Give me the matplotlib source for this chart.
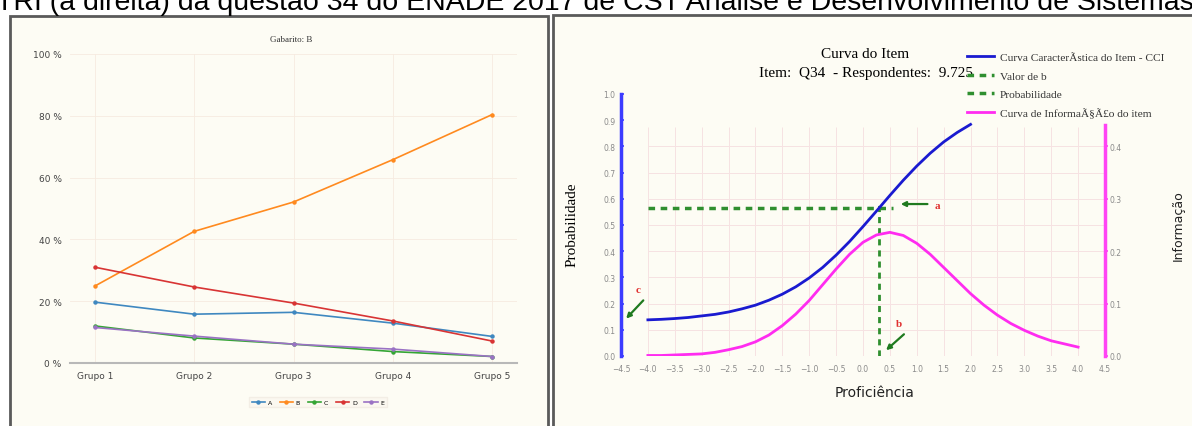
import matplotlib.pyplot as plt
from matplotlib.patches import Rectangle
from matplotlib.lines import Line2D

# ---- gráfico da esquerda: % de respostas por alternativa e grupo
grupos = ['Grupo 1', 'Grupo 2', 'Grupo 3', 'Grupo 4', 'Grupo 5']
alt_a = [19.7, 15.8, 16.4, 12.9, 8.6]
alt_b = [24.9, 42.6, 52.1, 65.8, 80.4]
alt_c = [12.0, 8.1, 6.1, 3.7, 2.1]
alt_d = [31.0, 24.6, 19.4, 13.6, 7.1]
alt_e = [11.5, 8.7, 6.1, 4.5, 2.1]
pct_ticks = [0, 20, 40, 60, 80, 100]

# ---- gráfico da direita: curvas do item
theta = [-4.0, -3.75, -3.5, -3.25, -3.0, -2.75, -2.5, -2.25, -2.0, -1.75, -1.5,
         -1.25, -1.0, -0.75, -0.5, -0.25, 0.0, 0.25, 0.5, 0.75, 1.0, 1.25, 1.5,
         1.75, 2.0, 2.25, 2.5, 2.75, 3.0, 3.25, 3.5, 3.75, 4.0]
prob_cci = [0.138, 0.140, 0.143, 0.147, 0.153, 0.159, 0.168, 0.180, 0.194, 0.213,
            0.236, 0.264, 0.298, 0.338, 0.385, 0.437, 0.494, 0.553, 0.613, 0.671,
            0.725, 0.774, 0.817, 0.853, 0.884]
info = [0.001, 0.001, 0.002, 0.003, 0.004, 0.007, 0.012, 0.018, 0.027, 0.040,
        0.058, 0.080, 0.106, 0.136, 0.166, 0.194, 0.217, 0.231, 0.236, 0.230,
        0.215, 0.194, 0.169, 0.144, 0.119, 0.097, 0.078, 0.062, 0.049, 0.038,
        0.029, 0.023, 0.017]
theta_ticks = [-4.5, -4.0, -3.5, -3.0, -2.5, -2.0, -1.5, -1.0, -0.5, 0.0,
               0.5, 1.0, 1.5, 2.0, 2.5, 3.0, 3.5, 4.0, 4.5]
prob_ticks = [0.0, 0.1, 0.2, 0.3, 0.4, 0.5, 0.6, 0.7, 0.8, 0.9, 1.0]
info_ticks = [0.0, 0.1, 0.2, 0.3, 0.4]
valor_b = 0.3
prob_b = 0.565

W, H = 1192, 427
fig = plt.figure(figsize=(W / 100, H / 100), dpi=100)
fig.patch.set_facecolor('white')

def px(x, y, w, h):
    # retângulo em pixels (topo-esquerda) -> coordenadas da figura
    return [x / W, 1 - (y + h) / H, w / W, h / H]

creme = '#fdfcf4'
fig.add_artist(Rectangle((10 / W, -0.05), 538 / W, 1 - 17 / H + 0.05,
                         transform=fig.transFigure, facecolor=creme,
                         edgecolor='#5a5a5a', lw=2, zorder=-2))
fig.add_artist(Rectangle((553 / W, -0.05), 0.6, 1 - 16 / H + 0.05,
                         transform=fig.transFigure, facecolor=creme,
                         edgecolor='#5a5a5a', lw=2, zorder=-2))

# legenda cortada no topo
fig.text(-4 / W, 1 - 10 / H,
         'TRI (à direita) da questão 34 do ENADE 2017 de CST Análise e Desenvolvimento de Sistemas',
         fontsize=20.5, family='Liberation Sans', va='baseline', ha='left')

# ================= esquerda =================
ax = fig.add_axes(px(70, 55, 447, 309))
ax.set_facecolor('none')
x = list(range(len(grupos)))
cores = ['#3f88c0', '#ff8a1f', '#35a535', '#d83434', '#9a72c4']
for serie, nome, cor in zip([alt_a, alt_b, alt_c, alt_d, alt_e], 'ABCDE', cores):
    ax.plot(x, serie, color=cor, lw=1.2, marker='o', ms=2.2, label=nome)
ax.set_xlim(-0.25, 4.25)
ax.set_ylim(0, 100)
ax.set_xticks(x)
ax.set_xticklabels(grupos, fontsize=6.5, color='#444')
ax.set_yticks(pct_ticks)
ax.set_yticklabels([f'{v} %' for v in pct_ticks], fontsize=6.5, color='#444')
ax.tick_params(length=0, pad=6)
for s in ['top', 'right', 'left']:
    ax.spines[s].set_visible(False)
ax.spines['bottom'].set_color('#b8b8b8')
ax.spines['bottom'].set_linewidth(1.5)
ax.grid(True, color='#f6ebe0', lw=0.6)
ax.set_axisbelow(True)
fig.text(291 / W, 1 - 40 / H, 'Gabarito: B', fontsize=6.5,
         family='Liberation Serif', color='#333', ha='center', va='center')
ax.legend(loc='center', bbox_to_anchor=(318 / W, 1 - 403 / H),
          bbox_transform=fig.transFigure, ncol=5, fontsize=4.5,
          handlelength=2.2, columnspacing=1.2, handletextpad=0.4,
          frameon=True, facecolor='#fbf8ef', edgecolor='#f1ebe2', fancybox=False)

# ================= direita =================
ax2 = fig.add_axes(px(621, 95, 484, 262))
ax2.set_facecolor('none')
ax2.set_xlim(-4.5, 4.5)
ax2.set_ylim(0, 1.0)
axr = ax2.twinx()
axr.set_ylim(0, 0.5)

# grade
ax2.vlines(theta_ticks[1:-1], 0, 0.875, color='#f6e2e2', lw=0.7, zorder=0)
ax2.hlines(prob_ticks[1:9], -4.0, 4.5, color='#f6e2e2', lw=0.7, zorder=0)

ax2.plot(theta[:len(prob_cci)], prob_cci, color='#1a1ad0', lw=2, zorder=3)
axr.plot(theta, info, color='#ff2cf0', lw=2, zorder=3)

verde = '#2f8f2f'
ax2.plot([-4.0, 0.55], [prob_b, prob_b], color=verde, lw=2.5,
         ls=(0, (1.9, 1.6)), zorder=2)
ax2.plot([valor_b, valor_b], [0, 0.59], color=verde, lw=2,
         ls=(0, (2.2, 1.8)), zorder=2)

seta = dict(arrowstyle='-|>', color='#1f7a1f', lw=1.6, mutation_scale=7)
ax2.annotate('', xy=(0.65, 0.58), xytext=(1.25, 0.58), arrowprops=seta)
ax2.text(1.33, 0.575, 'a', color='#e03030', fontsize=8, family='Liberation Serif',
         fontweight='bold', ha='left', va='center')
ax2.annotate('', xy=(0.39, 0.015), xytext=(0.8, 0.09), arrowprops=seta)
ax2.text(0.67, 0.125, 'b', color='#e03030', fontsize=8, family='Liberation Serif',
         fontweight='bold', ha='center', va='center')
ax2.annotate('', xy=(-4.44, 0.135), xytext=(-4.05, 0.22), arrowprops=seta)
ax2.text(-4.18, 0.255, 'c', color='#e03030', fontsize=8, family='Liberation Serif',
         fontweight='bold', ha='center', va='center')

for s in ['top', 'right', 'bottom']:
    ax2.spines[s].set_visible(False)
ax2.spines['left'].set_color('#3c3cff')
ax2.spines['left'].set_linewidth(2.5)
ax2.spines['left'].set_bounds(0, 1.0)
for s in ['top', 'left', 'bottom']:
    axr.spines[s].set_visible(False)
axr.spines['right'].set_color('#ff44f4')
axr.spines['right'].set_linewidth(2.5)
axr.spines['right'].set_bounds(0, 0.44)

ax2.set_xticks(theta_ticks)
ax2.set_xticklabels([f'{v:.1f}'.replace('-', '\u2212') for v in theta_ticks],
                    fontsize=5.5, color='#8a8a8a')
ax2.tick_params(axis='x', length=0, pad=6)
ax2.set_yticks(prob_ticks)
ax2.set_yticklabels([f'{v:.1f}' for v in prob_ticks], fontsize=5.5, color='#8a8a8a')
ax2.tick_params(axis='y', direction='in', length=2.5, width=1.2, color='#3c3cff', pad=4)
axr.set_yticks(info_ticks)
axr.set_yticklabels([f'{v:.1f}' for v in info_ticks], fontsize=5.5, color='#8a8a8a')
axr.tick_params(axis='y', direction='out', length=2.5, width=1.2, color='#ff44f4', pad=1)

fig.text(865 / W, 1 - 55 / H, 'Curva do Item', fontsize=11,
         family='Liberation Serif', ha='center', va='center')
fig.text(866 / W, 1 - 73 / H, 'Item:  Q34  - Respondentes:  9.725', fontsize=11,
         family='Liberation Serif', ha='center', va='center')
fig.text(572 / W, 1 - 225 / H, 'Probabilidade', fontsize=11, rotation=90,
         family='Liberation Serif', ha='center', va='center')
fig.text(875 / W, 1 - 393 / H, 'Proficiência', fontsize=10,
         ha='center', va='center', color='#222')
fig.text(1178 / W, 1 - 226 / H, 'Informação', fontsize=9, rotation=90,
         ha='center', va='center', color='#222')

handles = [Line2D([], [], color='#1a1ad0', lw=2),
           Line2D([], [], color=verde, lw=2.5, ls=(0, (1.9, 1.6))),
           Line2D([], [], color=verde, lw=2.5, ls=(0, (1.9, 1.6))),
           Line2D([], [], color='#ff2cf0', lw=2)]
labels = ['Curva CaracterÃstica do Item - CCI', 'Valor de b', 'Probabilidade',
          'Curva de InformaÃ§Ã£o do item']
fig.legend(handles, labels, loc='upper left', bbox_to_anchor=(958 / W, 1 - 44 / H),
           prop={'family': 'Liberation Serif', 'size': 8.2}, frameon=False,
           handlelength=2.4, labelspacing=0.75, handletextpad=0.5, borderpad=0.3,
           labelcolor='#333')

fig.savefig('out.png', dpi=100)
